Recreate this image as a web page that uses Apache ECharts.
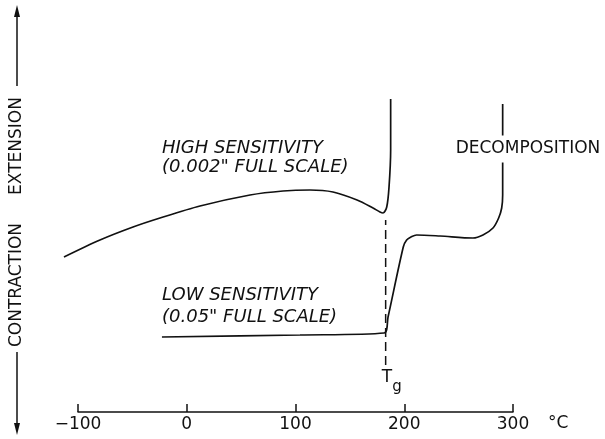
<!DOCTYPE html>
<html>
<head>
<meta charset="utf-8">
<style>
  html, body {
    margin: 0;
    padding: 0;
    background: #fff;
  }
  #main {
    width: 605px;
    height: 439px;
  }
</style>
<script src="https://cdn.jsdelivr.net/npm/echarts@6/dist/echarts.min.js"></script>
</head>
<body>
<div id="main"></div>
<script>
// temperature ticks (°C)
var xTicks = [-100, 0, 100, 200, 300];

// high sensitivity trace [°C, relative extension]
var highSens = [
  [-112.9, 155], [-79.8, 172], [-49.4, 185], [-24.6, 194], [12.2, 206],
  [58.2, 217], [88.5, 221], [113.3, 222], [134.5, 220], [156.6, 212],
  [171.3, 204], [177.7, 200], [180.5, 199], [183.9, 205], [186, 225],
  [187.5, 262], [187.5, 313]
];

// low sensitivity trace
var lowSens = [
  [-22.8, 75], [104.1, 77], [181.5, 79], [185.1, 95], [199.1, 165],
  [202.2, 172], [206.2, 175], [211.4, 177], [232.9, 176], [263.2, 174],
  [272.4, 177], [281.6, 184], [286.8, 194], [289.6, 204], [290.5, 217],
  [290.5, 308]
];

// glass transition marker
var tg = 182.9;
var tgLine = [[tg, 47], [tg, 192]];

var ink = "#111";
var font = "DejaVu Sans";

// px per °C of the drawn axis, used to widen the second grid for the
// high trace which starts left of -100
var plotLeft = 78, plotRight = 92, plotW = 605 - plotLeft - plotRight;
var pxPerDeg = plotW / (xTicks[xTicks.length - 1] - xTicks[0]);
var highLeft = plotLeft - (xTicks[0] - highSens[0][0]) * pxPerDeg;

var myChart = echarts.init(document.getElementById("main"));

myChart.setOption({
  animation: false,
  grid: [
    { left: plotLeft, right: plotRight, top: 0, bottom: 27 },
    { left: highLeft, right: plotRight, top: 0, bottom: 27 }
  ],
  xAxis: [
    {
      type: "value",
      gridIndex: 0,
      min: xTicks[0],
      max: xTicks[xTicks.length - 1],
      interval: 100,
      name: "°C",
      nameLocation: "end",
      nameGap: 35,
      nameTextStyle: {
        color: ink,
        fontFamily: font,
        fontSize: 17,
        align: "left",
        verticalAlign: "top",
        padding: [3, 0, 0, 0]
      },
      axisLine: {
        lineStyle: { color: ink, width: 1.5 }
      },
      axisTick: {
        inside: true,
        length: 8,
        lineStyle: { color: ink, width: 1.5 }
      },
      axisLabel: {
        color: ink,
        fontFamily: font,
        fontSize: 17,
        margin: 4,
        formatter: function(v) {
          return String(v).replace("-", "\u2212");
        }
      },
      splitLine: { show: false }
    },
    {
      type: "value",
      gridIndex: 1,
      min: highSens[0][0],
      max: xTicks[xTicks.length - 1],
      show: false
    }
  ],
  yAxis: [
    { type: "value", gridIndex: 0, min: 0, max: 412, show: false },
    { type: "value", gridIndex: 1, min: 0, max: 412, show: false }
  ],
  series: [
    {
      name: "high",
      type: "line",
      xAxisIndex: 1,
      yAxisIndex: 1,
      data: highSens,
      smooth: 0.3,
      showSymbol: false,
      lineStyle: { color: ink, width: 1.7 }
    },
    {
      name: "low",
      type: "line",
      data: lowSens,
      smooth: 0.3,
      showSymbol: false,
      lineStyle: { color: ink, width: 1.7 }
    },
    {
      name: "Tg",
      type: "line",
      data: tgLine,
      showSymbol: false,
      lineStyle: { color: ink, width: 1.5, type: [9, 5] }
    }
  ],
  graphic: [
    // left direction arrows
    { type: "line", z: 100, shape: { x1: 17, y1: 14, x2: 17, y2: 86 }, style: { stroke: ink, lineWidth: 1.5 } },
    { type: "polygon", z: 100, shape: { points: [[17, 5], [14, 17], [20, 17]] }, style: { fill: ink } },
    { type: "line", z: 100, shape: { x1: 17, y1: 352, x2: 17, y2: 426 }, style: { stroke: ink, lineWidth: 1.5 } },
    { type: "polygon", z: 100, shape: { points: [[17, 435], [14, 423], [20, 423]] }, style: { fill: ink } },
    {
      type: "text", z: 100, x: 17, y: 146, rotation: Math.PI / 2,
      style: { text: "EXTENSION", fill: ink, font: "17px " + font, align: "center", verticalAlign: "middle" }
    },
    {
      type: "text", z: 100, x: 17, y: 285, rotation: Math.PI / 2,
      style: { text: "CONTRACTION", fill: ink, font: "17px " + font, align: "center", verticalAlign: "middle" }
    },
    // curve captions
    {
      type: "text", z: 100, x: 162, y: 148,
      style: { text: "HIGH SENSITIVITY", fill: ink, font: "italic 18px " + font, verticalAlign: "middle" }
    },
    {
      type: "text", z: 100, x: 162, y: 167,
      style: { text: "(0.002\" FULL SCALE)", fill: ink, font: "italic 18px " + font, verticalAlign: "middle" }
    },
    {
      type: "text", z: 100, x: 162, y: 295,
      style: { text: "LOW SENSITIVITY", fill: ink, font: "italic 18px " + font, verticalAlign: "middle" }
    },
    {
      type: "text", z: 100, x: 162, y: 317,
      style: { text: "(0.05\" FULL SCALE)", fill: ink, font: "italic 18px " + font, verticalAlign: "middle" }
    },
    {
      type: "text", z: 100, x: 528, y: 149,
      style: {
        text: "DECOMPOSITION", fill: ink, font: "17px " + font, align: "center", verticalAlign: "middle",
        backgroundColor: "#fff", padding: [5, 0, 5, 0]
      }
    },
    // Tg label
    {
      type: "text", z: 100, x: 387, y: 378,
      style: { text: "T", fill: ink, font: "17px " + font, align: "center", verticalAlign: "middle" }
    },
    {
      type: "text", z: 100, x: 397, y: 387,
      style: { text: "g", fill: ink, font: "15px " + font, align: "center", verticalAlign: "middle" }
    }
  ]
});

window.addEventListener("resize", function() {
  myChart.resize();
});
</script>
</body>
</html>
